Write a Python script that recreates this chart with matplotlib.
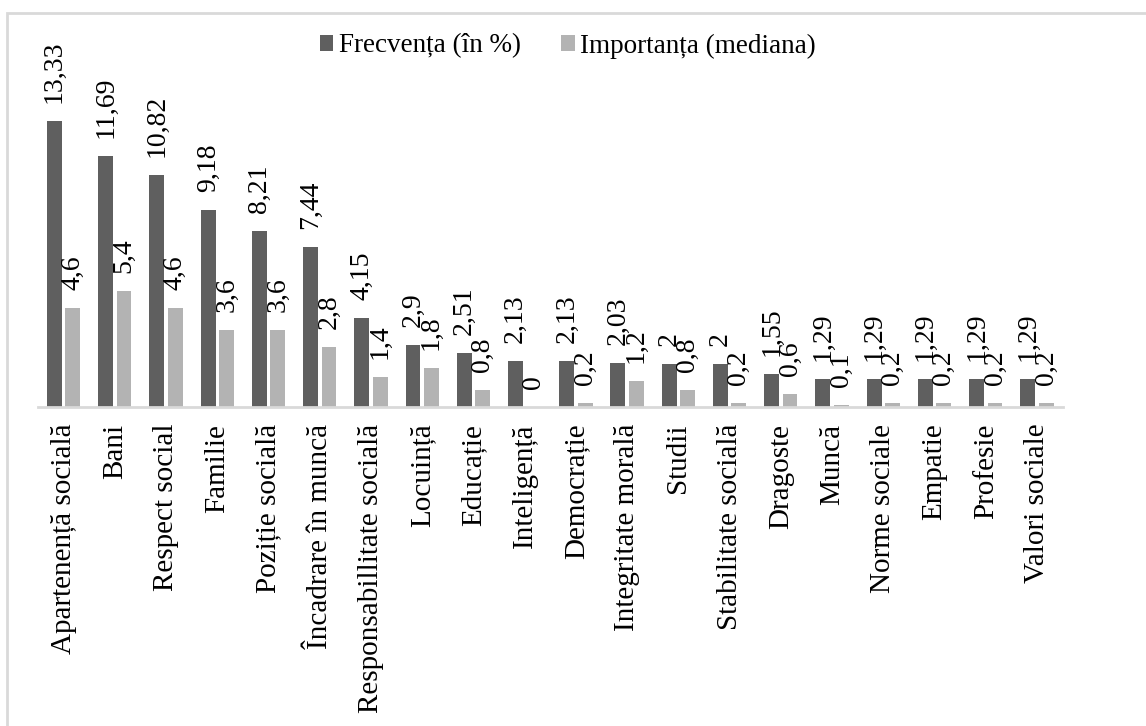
import matplotlib.pyplot as plt
import numpy as np
from matplotlib.patches import Rectangle

plt.rcParams['font.family'] = ['Liberation Serif', 'DejaVu Serif']

# Date
categorii = ['Apartenență socială', 'Bani', 'Respect social', 'Familie', 'Poziție socială',
             'Încadrare în muncă', 'Responsabillitate socială', 'Locuință', 'Educație',
             'Inteligență', 'Democrație', 'Integritate morală', 'Studii', 'Stabilitate socială',
             'Dragoste', 'Muncă', 'Norme sociale', 'Empatie', 'Profesie', 'Valori sociale']
frecventa = [13.33, 11.69, 10.82, 9.18, 8.21, 7.44, 4.15, 2.9, 2.51, 2.13,
             2.13, 2.03, 2, 2, 1.55, 1.29, 1.29, 1.29, 1.29, 1.29]
importanta = [4.6, 5.4, 4.6, 3.6, 3.6, 2.8, 1.4, 1.8, 0.8, 0,
              0.2, 1.2, 0.8, 0.2, 0.6, 0.1, 0.2, 0.2, 0.2, 0.2]

W, H = 1146, 726
fig = plt.figure(figsize=(W / 100, H / 100), dpi=100)

# chenarul graficului
fig.patches.append(Rectangle((7 / W, -0.05), 1.1, 1 - 13 / H + 0.05, transform=fig.transFigure,
                             fill=False, edgecolor='#d9d9d9', linewidth=2))

x_left, x_right, y_base, y_top = 38, 1062.6, 407, 40
ax = fig.add_axes([x_left / W, (H - y_base) / H, (x_right - x_left) / W, (y_base - y_top) / H])

x = np.arange(len(categorii))
c1, c2 = '#5f5f5f', '#b3b3b3'
b1 = ax.bar(x - 0.18, frecventa, width=0.29, color=c1, label='Frecvența (în %)')
b2 = ax.bar(x + 0.18, importanta, width=0.29, color=c2, label='Importanța (mediana)')

def eticheta(v):
    return f'{v:g}'.replace('.', ',')

for bars, vals in [(b1, frecventa), (b2, importanta)]:
    for b, v in zip(bars, vals):
        ax.annotate(eticheta(v), (b.get_x() + b.get_width() / 2, v), xytext=(0, 13),
                    textcoords='offset points', rotation=90, ha='center', va='bottom',
                    fontsize=20)

ax.set_xlim(-0.5, len(categorii) - 0.5)
ax.set_ylim(0, (y_base - y_top) / 21.47)
ax.set_xticks(x)
ax.set_xticklabels(categorii, rotation=90, fontsize=21)
ax.tick_params(axis='x', length=0, pad=12)
ax.set_yticks([])
for s in ['top', 'right', 'left']:
    ax.spines[s].set_visible(False)
ax.spines['bottom'].set_color('#d9d9d9')
ax.spines['bottom'].set_linewidth(2)

fig.legend(handles=[b1, b2], loc='center', bbox_to_anchor=(568 / W, 1 - 46 / H), ncol=2,
           frameon=False, fontsize=19.5, handlelength=0.5, handleheight=0.5,
           handletextpad=0.2, columnspacing=1.5)

plt.savefig('out.png', dpi=100)
